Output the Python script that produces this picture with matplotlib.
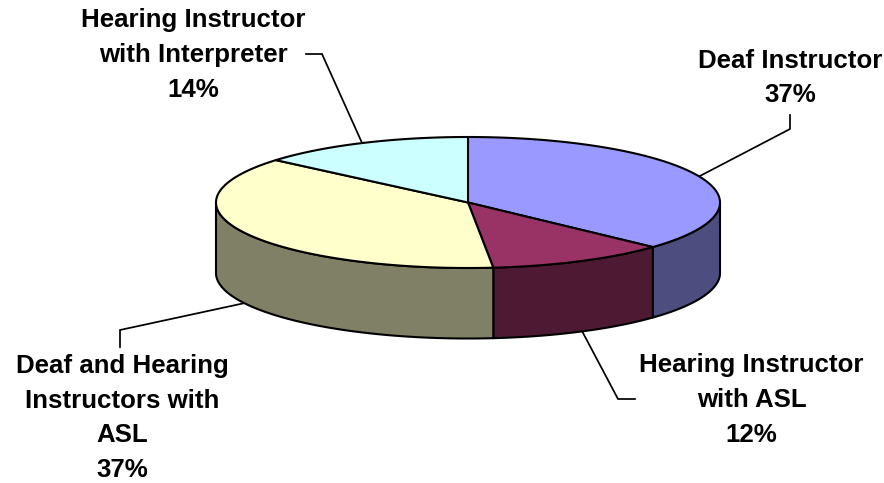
import numpy as np
import matplotlib
matplotlib.use("Agg")
import matplotlib.pyplot as plt
from matplotlib.patches import Polygon

categories = ["Deaf Instructor", "Hearing Instructor\nwith ASL",
              "Deaf and Hearing\nInstructors with\nASL", "Hearing Instructor\nwith Interpreter"]
values = [36.9, 11.5, 37.8, 13.8]   # slice sizes as drawn
pct_labels = ["37%", "12%", "37%", "14%"]
top_colors = ["#9999FF", "#993366", "#FFFFCC", "#CCFFFF"]
side_colors = ["#4D4D80", "#4D1933", "#808066", "#668080"]

W, H = 884, 483
CX, CY, RX, RY, DEPTH = 468.0, 202.5, 252.0, 65.5, 70.5
label_pos = [(790, 78), (751.5, 400), (122, 418), (193, 55)]
leaders = [[(698, 177), (790, 129), (790, 115)],
           [(582, 331), (618, 399), (635, 399)],
           [(245, 303), (120, 330), (120, 347)],
           [(362.5, 144), (322, 54), (306, 54)]]

fig = plt.figure(figsize=(W / 100, H / 100), dpi=100, facecolor="white")
ax = fig.add_axes([0, 0, 1, 1])
ax.set_xlim(0, W)
ax.set_ylim(H, 0)
ax.axis("off")

def rim(a0, a1, dy=0.0, n=160):
    t = np.radians(np.linspace(a0, a1, n))
    return np.column_stack([CX + RX * np.cos(t), CY - RY * np.sin(t) + dy])

LW = 1.5
fractions = np.cumsum([0] + values) / sum(values)
angles = 90 - 360 * fractions   # clockwise from the top

# leader lines
for pts in leaders:
    xs, ys = zip(*pts)
    ax.plot(xs, ys, color="black", lw=1.25, zorder=1, solid_joinstyle="miter")

# walls: only the part of each slice on the front half of the rim
for i in range(len(values)):
    a0, a1 = angles[i], angles[i + 1]
    lo, hi = a1, a0
    for shift in (0, -360):
        s0, s1 = max(lo + shift, -180), min(hi + shift, 0)
        if s1 > s0:
            upper = rim(s1, s0)
            lower = rim(s0, s1, DEPTH)
            ax.add_patch(Polygon(np.vstack([upper, lower]), closed=True,
                                 facecolor=side_colors[i], edgecolor="black",
                                 lw=LW, joinstyle="round", zorder=2))

# top faces
for i in range(len(values)):
    pts = np.vstack([[(CX, CY)], rim(angles[i], angles[i + 1])])
    ax.add_patch(Polygon(pts, closed=True, facecolor=top_colors[i],
                         edgecolor="black", lw=LW, joinstyle="round", zorder=3))

# labels
for name, pct, (x, y) in zip(categories, pct_labels, label_pos):
    ax.text(x, y, f"{name}\n{pct}", ha="center", va="center", ma="center",
            family="Liberation Sans", weight="bold", fontsize=18.6,
            linespacing=1.57, color="black", zorder=5)

fig.savefig("out.png", dpi=100, facecolor="white")
